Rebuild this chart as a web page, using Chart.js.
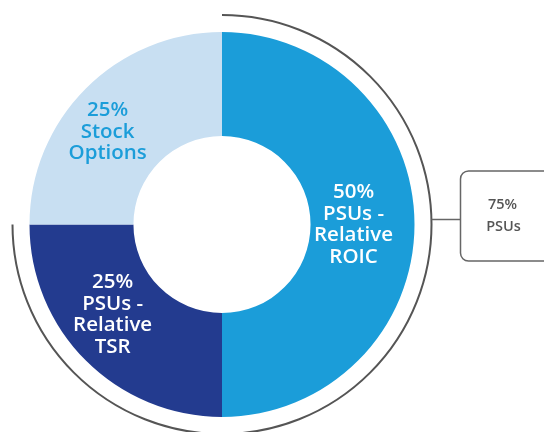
<!DOCTYPE html>
<html>
<head>
<meta charset="utf-8">
<script src="https://cdn.jsdelivr.net/npm/chart.js@4/dist/chart.umd.min.js"></script>
<style>
html,body{margin:0;padding:0;background:#fff;}
#c{display:block;}
</style>
</head>
<body>
<canvas id="c" width="544" height="432"></canvas>
<script>
// Data
const categories = ["PSUs - Relative ROIC", "PSUs - Relative TSR", "Stock Options"];
const labelLines = [["50%", "PSUs -", "Relative", "ROIC"], ["25%", "PSUs -", "Relative", "TSR"], ["25%", "Stock", "Options"]];
const shares = [50, 25, 25];
const psuGroup = [true, true, false];
const calloutLines = ["75%", "PSUs"];

const colors = ["#1b9dd9", "#233b8f", "#c8dff2"];
const labelColors = ["#ffffff", "#ffffff", "#1b9dd9"];
const labelOffsets = [[-9, 0], [-10, -9], [-15, 7]];

const overlayPlugin = {
  id: "overlay",
  afterDatasetsDraw(chart) {
    const ctx = chart.ctx;
    const meta = chart.getDatasetMeta(0);
    const arcs = meta.data;
    const cx = arcs[0].x, cy = arcs[0].y;
    const R = arcs[0].outerRadius;
    // segment labels
    ctx.save();
    ctx.textAlign = "center";
    ctx.textBaseline = "middle";
    ctx.font = "600 20.5px 'Open Sans', sans-serif";
    arcs.forEach((a, i) => {
      const p = a.getCenterPoint();
      const lines = labelLines[i];
      const lh = 21.5;
      const x = p.x + labelOffsets[i][0];
      const y0 = p.y + labelOffsets[i][1] - (lines.length - 1) * lh / 2;
      ctx.fillStyle = labelColors[i];
      lines.forEach((t, k) => ctx.fillText(t, x, y0 + k * lh));
    });
    // outer arc around PSU segments
    let start = null, end = null;
    arcs.forEach((a, i) => {
      if (psuGroup[i]) {
        if (start === null) start = a.startAngle;
        end = a.endAngle;
      }
    });
    const ar = R + 17;
    ctx.strokeStyle = "#555555";
    ctx.lineWidth = 2;
    ctx.beginPath();
    ctx.arc(cx, cy, ar, start, end);
    ctx.stroke();
    // connector + callout box
    const bx = cx + ar + 29, by = cy - 53.5, bw = 120, bh = 90;
    ctx.lineWidth = 1.5;
    ctx.strokeStyle = "#666666";
    ctx.beginPath();
    ctx.moveTo(cx + ar, cy - 5);
    ctx.lineTo(bx, cy - 5);
    ctx.stroke();
    ctx.beginPath();
    ctx.roundRect(bx, by, bw, bh, 8);
    ctx.stroke();
    ctx.fillStyle = "#555555";
    ctx.font = "600 14.5px 'Open Sans', sans-serif";
    ctx.fillText(calloutLines[0], bx + 42, cy - 19.5);
    ctx.fillText(calloutLines[1], bx + 43, cy + 2.5);
    ctx.restore();
  }
};

new Chart(document.getElementById("c"), {
  type: "doughnut",
  data: {
    labels: categories,
    datasets: [{
      data: shares,
      backgroundColor: colors,
      borderWidth: 0,
      hoverOffset: 0
    }]
  },
  options: {
    responsive: false,
    animation: false,
    cutout: "46%",
    layout: { padding: { left: 29.5, right: 129.5, top: 32, bottom: 15 } },
    plugins: { legend: { display: false }, tooltip: { enabled: false } },
    events: []
  },
  plugins: [overlayPlugin]
});
</script>
</body>
</html>
